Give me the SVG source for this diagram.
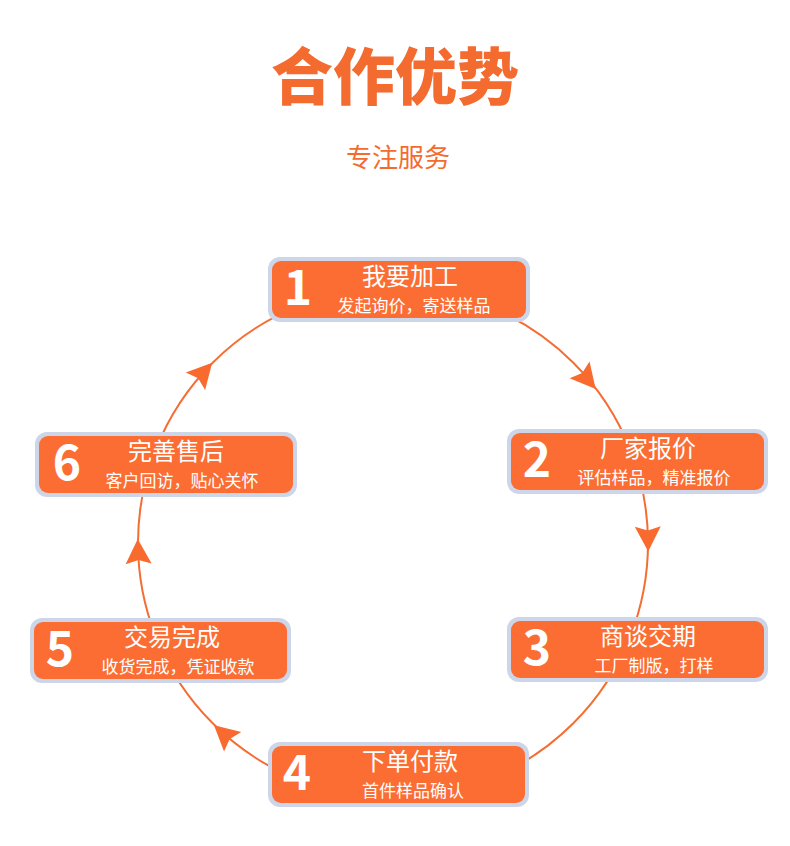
<svg xmlns="http://www.w3.org/2000/svg" xmlns:xlink="http://www.w3.org/1999/xlink" width="790" height="846" viewBox="0 0 790 846">
<style>
.cjk{font-family:"Noto Sans CJK SC","Noto Sans",sans-serif}
.outer{fill:#cdd6e8}
.inner{fill:#fb6d33}
.num{font-family:"Noto Sans CJK SC","Noto Sans",sans-serif;font-weight:bold;font-size:48px;fill:#ffffff;text-anchor:middle}
.t{font-family:"Noto Sans CJK SC",sans-serif;font-size:24px;fill:#ffffff;text-anchor:middle}
.s{font-family:"Noto Sans CJK SC",sans-serif;font-size:17px;fill:#ffffff;text-anchor:middle}
.ring{fill:none;stroke:#f46d32;stroke-width:2}
.ah{fill:#f96a2f}
</style>
<defs>
<path id="arr" d="M13,0 L-12,-13 L-8,0 L-12,13 Z"/>
</defs>
<rect width="790" height="846" fill="#ffffff"/>
<g id="heading">
<text x="395" y="100" class="cjk" font-size="62" font-weight="900" fill="#f46b30" text-anchor="middle">合作优势</text>
<text x="398" y="167" class="cjk" font-size="26" fill="#f46b30" text-anchor="middle">专注服务</text>
</g>
<g id="connectors">
<circle class="ring" cx="393" cy="543" r="255"/>
<use href="#arr" class="ah" transform="translate(587.3,379.1) rotate(50)"/>
<use href="#arr" class="ah" transform="translate(648,538.5) rotate(89)"/>
<use href="#arr" class="ah" transform="translate(223.7,733.8) rotate(221.6)"/>
<use href="#arr" class="ah" transform="translate(138.2,551.9) rotate(268)"/>
<use href="#arr" class="ah" transform="translate(203.5,372.4) rotate(312)"/>
</g>
<g id="node1">
<rect class="outer" x="268" y="257" width="262" height="65" rx="12"/>
<rect class="inner" x="272" y="261" width="254" height="57" rx="9"/>
<text class="num" x="298" y="305">1</text>
<text class="t" x="410" y="285">我要加工</text>
<text class="s" x="414" y="312">发起询价，寄送样品</text>
</g>
<g id="node2">
<rect class="outer" x="507" y="429" width="261" height="65" rx="12"/>
<rect class="inner" x="511" y="433" width="253" height="57" rx="9"/>
<text class="num" x="537" y="477">2</text>
<text class="t" x="648" y="457">厂家报价</text>
<text class="s" x="654" y="484">评估样品，精准报价</text>
</g>
<g id="node3">
<rect class="outer" x="507" y="617" width="261" height="65" rx="12"/>
<rect class="inner" x="511" y="621" width="253" height="57" rx="9"/>
<text class="num" x="537" y="665">3</text>
<text class="t" x="648" y="645">商谈交期</text>
<text class="s" x="654" y="672">工厂制版，打样</text>
</g>
<g id="node4">
<rect class="outer" x="268" y="742" width="261" height="65" rx="12"/>
<rect class="inner" x="272" y="746" width="253" height="57" rx="9"/>
<text class="num" x="297" y="790">4</text>
<text class="t" x="410" y="770">下单付款</text>
<text class="s" x="413" y="797">首件样品确认</text>
</g>
<g id="node5">
<rect class="outer" x="30" y="618" width="261" height="65" rx="12"/>
<rect class="inner" x="34" y="622" width="253" height="57" rx="9"/>
<text class="num" x="60" y="666">5</text>
<text class="t" x="172" y="646">交易完成</text>
<text class="s" x="178" y="673">收货完成，凭证收款</text>
</g>
<g id="node6">
<rect class="outer" x="35" y="432" width="262" height="65" rx="12"/>
<rect class="inner" x="39" y="436" width="254" height="57" rx="9"/>
<text class="num" x="67" y="480">6</text>
<text class="t" x="176" y="460">完善售后</text>
<text class="s" x="182" y="487">客户回访，贴心关怀</text>
</g>
</svg>
